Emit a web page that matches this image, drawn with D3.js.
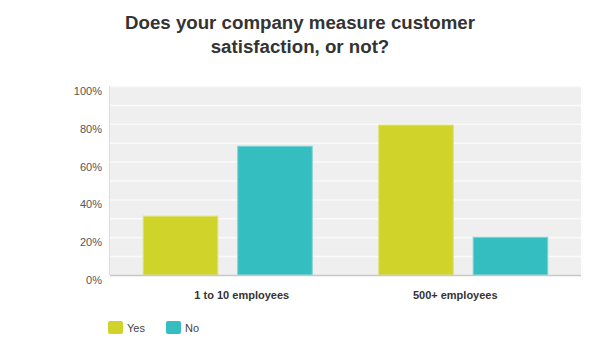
<!DOCTYPE html>
<html><head><meta charset="utf-8">
<script src="https://cdn.jsdelivr.net/npm/d3@7"></script>
<style>body{margin:0;background:#fff}svg{display:block}</style>
</head><body><svg id="c" width="600" height="357"></svg>
<script>
const categories = ["1 to 10 employees", "500+ employees"];
const seriesNames = ["Yes", "No"];
const yesValues = [31.4, 79.6];
const noValues = [68.4, 20.2];
const yTicks = [0, 20, 40, 60, 80, 100];
const titleLines = ["Does your company measure customer", "satisfaction, or not?"];

const colors = {Yes: "#d0d42a", No: "#34bec0"};
const strokes = {Yes: "#dde27a", No: "#7fd3d4"};

const svg = d3.select("#c");
const m = {left: 110, right: 581, top: 86, bottom: 275};

const x0 = d3.scaleBand().domain(categories).range([m.left, m.right]).padding(0);
const x1 = d3.scaleBand().domain(seriesNames).range([0, x0.bandwidth()]).paddingInner(0.2).paddingOuter(0.347);
const y = d3.scaleLinear().domain([0, 100]).range([m.bottom, m.top]);

// plot background
svg.append("rect").attr("x", m.left).attr("y", m.top)
  .attr("width", m.right - m.left).attr("height", m.bottom - m.top).attr("fill", "#efefef");

// gridlines every 10%
svg.append("g").selectAll("line").data(d3.range(10, 101, 10)).join("line")
  .attr("x1", m.left).attr("x2", m.right)
  .attr("y1", d => y(d) + 0.5).attr("y2", d => y(d) + 0.5)
  .attr("stroke", "#fafafa").attr("stroke-width", 1.5);

// left axis line
svg.append("line").attr("x1", m.left - 0.5).attr("x2", m.left - 0.5)
  .attr("y1", m.top).attr("y2", m.bottom).attr("stroke", "#dcdcdc");

// y tick labels
const yAxis = d3.axisLeft(y).tickValues(yTicks).tickFormat(d => d + "%").tickSize(0).tickPadding(8);
const ya = svg.append("g").attr("transform", `translate(${m.left},5)`).call(yAxis);
ya.select(".domain").remove();
ya.selectAll("text").attr("font-family", "Liberation Sans, Arial, sans-serif")
  .attr("font-size", 11).attr("fill", "#555");

// bars
const data = categories.map((c, i) => ({cat: c, vals: [{s: "Yes", v: yesValues[i]}, {s: "No", v: noValues[i]}]}));
const g = svg.append("g").selectAll("g").data(data).join("g")
  .attr("transform", d => `translate(${x0(d.cat)},0)`);
g.selectAll("rect").data(d => d.vals).join("rect")
  .attr("x", d => x1(d.s) + 0.5).attr("width", x1.bandwidth() - 1)
  .attr("y", d => y(d.v) + 0.5).attr("height", d => y(0) - y(d.v) - 0.5)
  .attr("fill", d => colors[d.s]).attr("stroke", d => strokes[d.s]).attr("stroke-width", 1);

// baseline
svg.append("line").attr("x1", m.left).attr("x2", m.right)
  .attr("y1", m.bottom + 0.5).attr("y2", m.bottom + 0.5).attr("stroke", "#c8c8c8").attr("stroke-width", 1.5);

// x labels
const labelShift = [14, -8];
svg.append("g").selectAll("text").data(categories).join("text")
  .attr("x", (d, i) => x0(d) + x0.bandwidth() / 2 + labelShift[i])
  .attr("y", 299).attr("text-anchor", "middle")
  .attr("font-family", "Liberation Sans, Arial, sans-serif").attr("font-size", 11)
  .attr("font-weight", "bold").attr("fill", "#333").text(d => d);

// title
svg.append("g").selectAll("text").data(titleLines).join("text")
  .attr("x", 300).attr("y", (d, i) => 29 + i * 24).attr("text-anchor", "middle")
  .attr("font-family", "Liberation Sans, Arial, sans-serif").attr("font-size", 18.7)
  .attr("font-weight", "bold").attr("fill", "#333").text(d => d);

// legend
const lg = svg.append("g").selectAll("g").data(seriesNames).join("g")
  .attr("transform", (d, i) => `translate(${108 + i * 58},321)`);
lg.append("rect").attr("width", 15).attr("height", 13).attr("rx", 2)
  .attr("fill", d => colors[d]);
lg.append("text").attr("x", 19).attr("y", 10.5)
  .attr("font-family", "Liberation Sans, Arial, sans-serif").attr("font-size", 11)
  .attr("fill", "#444").text(d => d);
</script></body></html>
